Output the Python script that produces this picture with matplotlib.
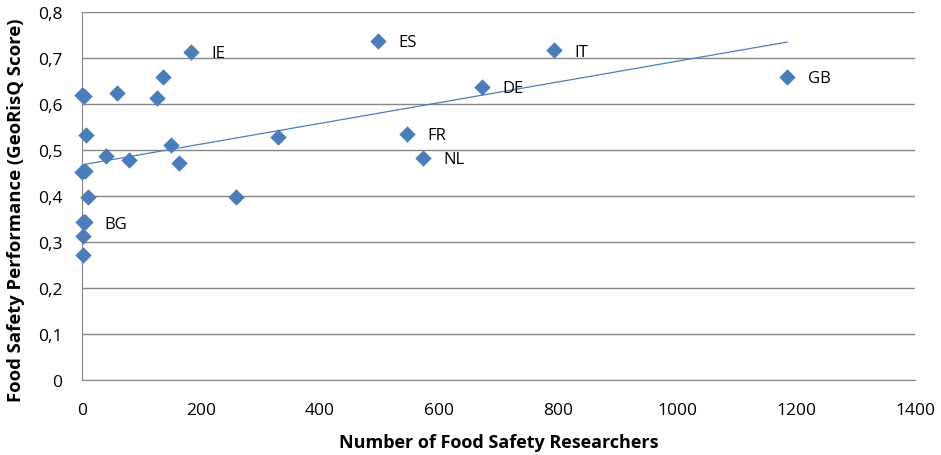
import matplotlib.pyplot as plt
import numpy as np
from matplotlib.ticker import FuncFormatter

plt.rcParams['font.family'] = ['Open Sans', 'DejaVu Sans']

# researchers vs GeoRisQ score
researchers = [183, 497, 793, 1185, 672, 546, 573, 3,
               0, 4, 59, 126, 136, 6, 40, 79, 150, 163, 329,
               0, 5, 10, 259, 1, 5, 2, 2]
scores = [0.713, 0.737, 0.717, 0.659, 0.637, 0.535, 0.483, 0.343,
          0.620, 0.618, 0.624, 0.613, 0.659, 0.533, 0.487, 0.478, 0.511, 0.472, 0.528,
          0.452, 0.455, 0.398, 0.398, 0.343, 0.343, 0.313, 0.272]
labels = ['IE', 'ES', 'IT', 'GB', 'DE', 'FR', 'NL', 'BG']

xs = np.array(researchers)
ys = np.array(scores)

fig = plt.figure(figsize=(9.41, 4.56), dpi=100)
ax = fig.add_axes([82 / 941, 75 / 456, 833 / 941, 368 / 456])

ax.scatter(xs, ys, marker='D', s=70, color='#4a7ebb', zorder=3, linewidths=0, clip_on=False)

# linear trend line over data range
slope, inter = np.polyfit(xs, ys, 1)
tx = np.array([xs.min(), xs.max()])
ax.plot(tx, slope * tx + inter, color='#4a7ebb', lw=0.9, zorder=2)

for i, lab in enumerate(labels):
    ax.annotate(lab, (xs[i], ys[i]), xytext=(15, -1), textcoords='offset points',
                fontsize=12, va='center', ha='left', color='black')

ax.set_xlim(0, 1400)
ax.set_ylim(0, 0.8)
ax.set_xticks(range(0, 1401, 200))
ax.set_yticks(np.arange(0, 0.81, 0.1))
ax.yaxis.set_major_formatter(FuncFormatter(lambda v, p: '0' if v == 0 else f'{v:.1f}'.replace('.', ',')))
ax.tick_params(length=0, labelsize=12.5)
ax.tick_params(axis='x', pad=16)
ax.tick_params(axis='y', pad=14)
ax.grid(axis='y', color='#868686', lw=1)
ax.set_axisbelow(True)
for s in ['top', 'right']:
    ax.spines[s].set_visible(False)
for s in ['left', 'bottom']:
    ax.spines[s].set_color('#868686')

ax.set_xlabel('Number of Food Safety Researchers', fontsize=13, fontweight='bold', labelpad=11)
ax.set_ylabel('Food Safety Performance (GeoRisQ Score)', fontsize=13.3, fontweight='bold')
ax.yaxis.set_label_coords(-0.068, 0.465)

fig.savefig('out.png', dpi=100)
